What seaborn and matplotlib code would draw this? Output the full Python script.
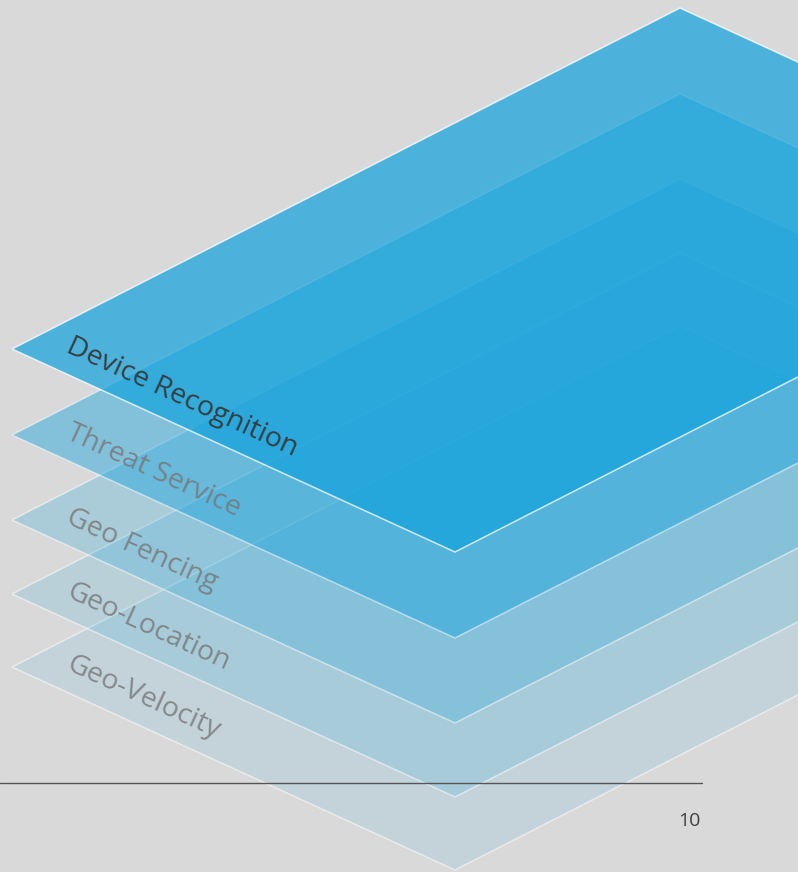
import numpy as np
import matplotlib.pyplot as plt
import seaborn as sns

# layer stack, top first
layers = ["Device Recognition", "Threat Service", "Geo Fencing", "Geo-Location", "Geo-Velocity"]
lift = [318, 232, 147, 73, 0]          # height above the lowest layer (px)
opacity = [0.70, 0.43, 0.23, 0.155, 0.10]
label_colors = ["#333333", "#767676", "#767676", "#767676", "#767676"]
page_number = "10"

sns.set_style("white")
plt.rcParams['font.family'] = ['Open Sans', 'DejaVu Sans']

W, H = 798, 872
fig = plt.figure(figsize=(W / 100, H / 100), dpi=100, facecolor='#d9d9d9')
ax = fig.add_axes([0, 0, 1, 1])
ax.set_facecolor('#d9d9d9')
ax.set_xlim(0, W)
ax.set_ylim(H, 0)
ax.axis('off')

# rhombus of the lowest layer: left, top, right, bottom corners
left = np.array([12, 667])
top = np.array([680, 326])
bottom = np.array([455, 870])
right = top + bottom - left
base = np.array([left, top, right, bottom])

angle = -np.degrees(np.arctan2(bottom[1] - left[1], bottom[0] - left[0]))

blue = '#12a2dc'
n = len(layers)
for i in range(n - 1, -1, -1):
    pts = base - np.array([0, lift[i]])
    z = 10 + (n - i) * 2
    ax.fill(pts[:, 0], pts[:, 1], color=blue, alpha=opacity[i], lw=0, zorder=z)
    ax.fill(pts[:, 0], pts[:, 1], fill=False, edgecolor='white',
            alpha=0.75 if i == 0 else 0.5, lw=1.1, zorder=z)
    tx, ty = pts[0] + np.array([53, 3])
    ax.text(tx, ty, layers[i], rotation=angle, rotation_mode='anchor',
            ha='left', va='baseline', fontsize=20.5, color=label_colors[i],
            alpha=0.9 if i == 0 else 0.8, zorder=z + 1)

ax.plot([0, 702], [783, 783], color='#555555', lw=1, zorder=50)
ax.text(701, 826, page_number, ha='right', va='baseline', fontsize=14,
        color='#404040', zorder=50)

fig.savefig('out.png', dpi=100, facecolor=fig.get_facecolor())
